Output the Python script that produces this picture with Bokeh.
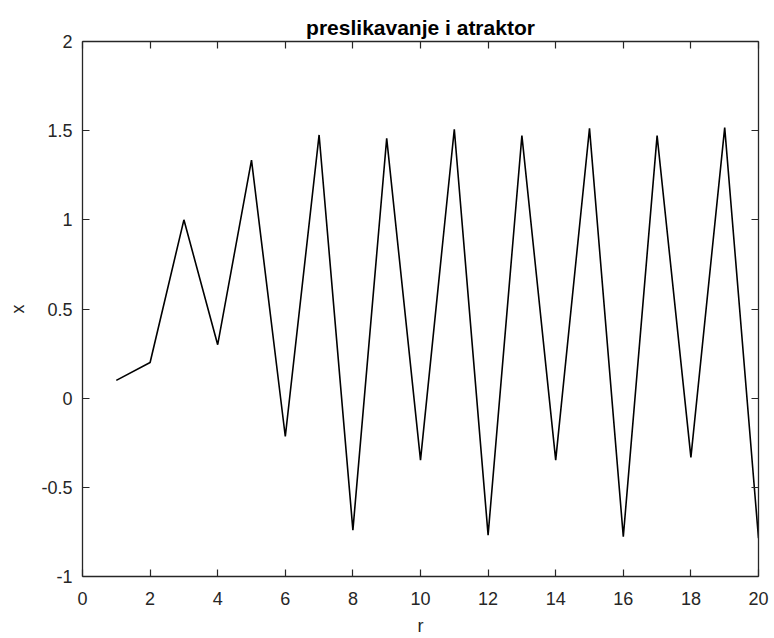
from bokeh.plotting import figure
from bokeh.models import LinearAxis, FixedTicker, Range1d
from bokeh.embed import file_html
from bokeh.resources import INLINE

# data
r_vals = [1, 2, 3, 4, 5, 6, 7, 8, 9, 10, 11, 12, 13, 14, 15, 16, 17, 18, 19, 20]
x_vals = [0.1, 0.2, 1.0, 0.3, 1.335, -0.215, 1.476, -0.74, 1.457, -0.347,
          1.508, -0.768, 1.472, -0.347, 1.513, -0.777, 1.472, -0.332, 1.517, -0.785]
x_ticks = [0, 2, 4, 6, 8, 10, 12, 14, 16, 18, 20]
y_ticks = [-1, -0.5, 0, 0.5, 1, 1.5, 2]
y_tick_labels = ["-1", "-0.5", "0", "0.5", "1", "1.5", "2"]
title_text = "preslikavanje i atraktor"
x_label = "r"
y_label = "x"

AX = "#262626"
FONT = "Liberation Sans"

p = figure(width=774, height=638, output_backend="svg", toolbar_location=None,
           x_range=Range1d(0, 20), y_range=Range1d(-1, 2),
           x_axis_location=None, y_axis_location=None,
           min_border_left=82, min_border_right=16, min_border_top=41, min_border_bottom=62)
p.outline_line_color = None
p.xgrid.visible = False
p.ygrid.visible = False
p.background_fill_color = "white"
p.border_fill_color = "white"

p.title.text = title_text
p.title.align = "center"
p.title.text_font = FONT
p.title.text_font_size = "21px"
p.title.text_font_style = "bold"
p.title.text_color = "black"
p.title.offset = 0
p.title.standoff = 6


def style_axis(ax, show_labels):
    ax.axis_line_color = AX
    ax.axis_line_width = 1.3
    ax.major_tick_line_color = AX
    ax.major_tick_line_width = 1.2
    ax.major_tick_in = 7
    ax.major_tick_out = 0
    ax.minor_tick_in = 0
    ax.minor_tick_out = 0
    ax.major_label_text_font = FONT
    ax.major_label_text_color = AX
    if show_labels:
        ax.major_label_text_font_size = "18px"
    else:
        ax.major_label_text_font_size = "0px"
        ax.major_label_standoff = 0


xb = LinearAxis(ticker=FixedTicker(ticks=x_ticks))
style_axis(xb, True)
xb.major_label_standoff = 15
xb.axis_label = x_label
xb.axis_label_text_font = FONT
xb.axis_label_text_font_size = "18px"
xb.axis_label_text_font_style = "normal"
xb.axis_label_text_color = AX
xb.axis_label_standoff = 8
p.add_layout(xb, "below")

yl = LinearAxis(ticker=FixedTicker(ticks=y_ticks))
style_axis(yl, True)
yl.major_label_overrides = {t: s for t, s in zip(y_ticks, y_tick_labels)}
yl.major_label_standoff = 10
yl.axis_label = y_label
yl.axis_label_text_font = FONT
yl.axis_label_text_font_size = "18px"
yl.axis_label_text_font_style = "normal"
yl.axis_label_text_color = AX
yl.axis_label_standoff = 10
p.add_layout(yl, "left")

xt = LinearAxis(ticker=FixedTicker(ticks=x_ticks))
style_axis(xt, False)
xt.major_label_overrides = {t: "" for t in x_ticks}
p.add_layout(xt, "above")

yr = LinearAxis(ticker=FixedTicker(ticks=y_ticks))
style_axis(yr, False)
yr.major_label_overrides = {t: "" for t in y_ticks}
p.add_layout(yr, "right")

p.line(r_vals, x_vals, line_color="black", line_width=1.6)

open("out.html", "w").write(file_html(p, INLINE))
